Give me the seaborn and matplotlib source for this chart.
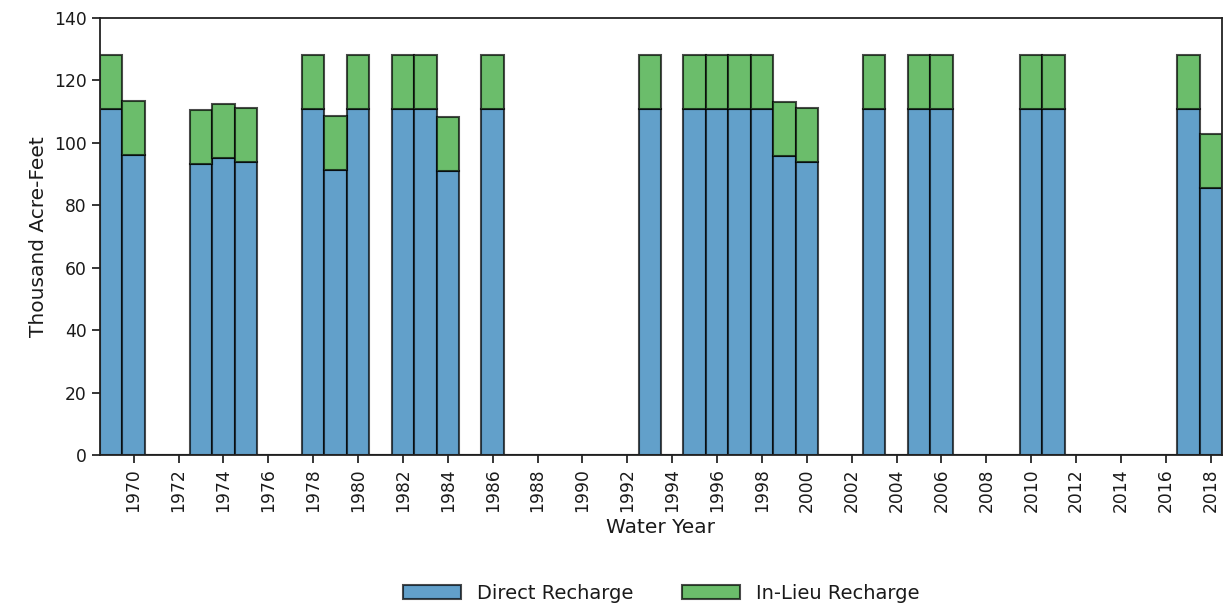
import pandas as pd
import matplotlib.pyplot as plt
import seaborn as sns
from matplotlib.patches import Patch

# -----------------------------
# Data (thousand acre-feet)
# -----------------------------
years = list(range(1969, 2019))
direct = [
    111, 96, 0, 0, 93.1, 95, 93.8, 0, 0, 111,    # 1969-1978
    91.2, 111, 0, 111, 111, 90.9, 0, 111, 0, 0,  # 1979-1988
    0, 0, 0, 0, 111, 0, 111, 111, 111, 111,      # 1989-1998
    95.7, 93.8, 0, 0, 111, 0, 111, 111, 0, 0,    # 1999-2008
    0, 111, 111, 0, 0, 0, 0, 0, 111, 85.6,       # 2009-2018
]
in_lieu = [17.3 if d > 0 else 0 for d in direct]

df = pd.DataFrame({"Water Year": years, "Direct": direct, "InLieu": in_lieu})

blue = "#62a0ca"
green = "#6bbd6b"
edge = (0, 0, 0, 0.7)

# -----------------------------
# Plot
# -----------------------------
sns.set_style("ticks")
plt.rcParams["font.family"] = ["DejaVu Sans"]

fig, ax = plt.subplots(figsize=(12.31, 6.05), dpi=100)
fig.subplots_adjust(left=0.0812, right=0.9927, top=0.9702, bottom=0.2479)

sns.barplot(data=df, x="Water Year", y="Direct", native_scale=True, width=1,
            color=blue, saturation=1, errorbar=None,
            edgecolor=edge, linewidth=1.5, ax=ax)
sns.barplot(data=df, x="Water Year", y="InLieu", native_scale=True, width=1,
            color=green, saturation=1, errorbar=None, bottom=df["Direct"].to_numpy(),
            edgecolor=edge, linewidth=1.5, ax=ax)

ax.set_xlim(1968.5, 2018.5)
ax.set_ylim(0, 140)
ax.set_xticks(range(1970, 2019, 2))
ax.set_yticks(range(0, 141, 20))
ax.tick_params(axis="x", rotation=90)
ax.tick_params(labelsize=12.3, length=6, width=1.3, labelcolor="#1a1a1a")
for s in ax.spines.values():
    s.set_linewidth(1.3)
    s.set_color("#222222")

ax.set_xlabel("Water Year", fontsize=14.5, color="#1a1a1a")
ax.set_ylabel("Thousand Acre-Feet", fontsize=14.5, color="#1a1a1a")

handles = [Patch(facecolor=blue, edgecolor=edge, linewidth=1.5, label="Direct Recharge"),
           Patch(facecolor=green, edgecolor=edge, linewidth=1.5, label="In-Lieu Recharge")]
leg = ax.legend(handles=handles, loc="center", bbox_to_anchor=(0.5, -0.316), ncol=2,
                frameon=False, fontsize=14, handlelength=3, columnspacing=2.5)
for t in leg.get_texts():
    t.set_color("#1a1a1a")

plt.savefig("out.png", dpi=100)
